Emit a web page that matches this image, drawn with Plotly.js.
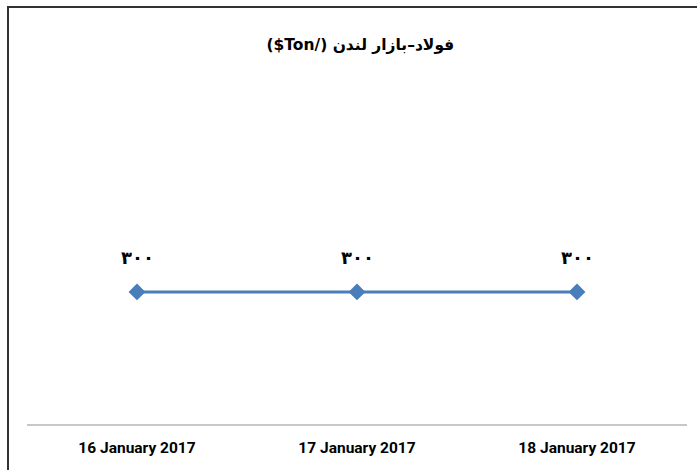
<!DOCTYPE html>
<html><head><meta charset="utf-8">
<script src="https://cdn.plot.ly/plotly-3.0.1.min.js"></script>
<style>
html,body{margin:0;padding:0;background:#fff;}
#chart{width:697px;height:470px;position:absolute;left:0;top:0;}
#frame{position:absolute;left:7px;top:6px;width:700px;height:470px;border-top:2px solid #333;border-left:2px solid #333;pointer-events:none;}
</style></head>
<body>
<div id="chart"></div>
<div id="frame"></div>
<script>
const categories = ["16 January 2017", "17 January 2017", "18 January 2017"];
const values = [300, 300, 300];
const valueLabels = ["۳۰۰", "۳۰۰", "۳۰۰"];
const titleText = "($Ton/) فولاد–بازار لندن";

const trace = {
  x: categories, y: values, type: 'scatter', mode: 'lines+markers',
  line: {color: '#4a7ebb', width: 3},
  marker: {symbol: 'diamond', size: 13, color: '#4a7ebb'},
  hoverinfo: 'none', showlegend: false
};
const annotations = categories.map((c, i) => ({
  x: c, y: values[i], xref: 'x', yref: 'y', text: '<b>' + valueLabels[i] + '</b>',
  showarrow: false, yshift: 34,
  font: {family: 'DejaVu Sans, Noto Sans', size: 18, color: '#000'}
}));
const layout = {
  width: 697, height: 470,
  margin: {l: 27, r: 10, t: 70, b: 46},
  paper_bgcolor: '#fff', plot_bgcolor: '#fff',
  title: {text: '<b>' + titleText + '</b>', x: 0.517, xanchor: 'center', y: 0.905, yanchor: 'middle',
          font: {family: 'DejaVu Sans, Noto Sans', size: 15.5, color: '#000'}},
  xaxis: {type: 'category', showgrid: false, zeroline: false, showline: true,
          linecolor: '#c8c8c8', linewidth: 2, ticks: '', range: [-0.5, 2.5], ticklabelstandoff: 8,
          tickfont: {family: 'Liberation Sans Narrow, Roboto, sans-serif', size: 15.5, color: '#000', weight: 'bold'}},
  yaxis: {visible: false, range: [0, 804], showgrid: false, zeroline: false},
  annotations: annotations
};
Plotly.newPlot('chart', [trace], layout, {displayModeBar: false, staticPlot: true});
</script>
</body></html>
